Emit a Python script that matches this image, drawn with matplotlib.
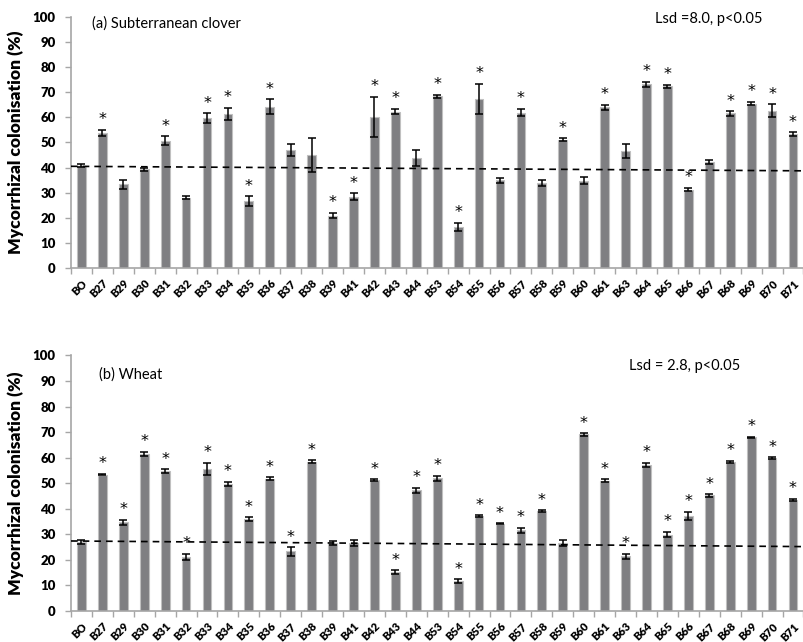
import matplotlib
matplotlib.use("Agg")
import matplotlib.pyplot as plt
import numpy as np

categories = ["BO", "B27", "B29", "B30", "B31", "B32", "B33", "B34", "B35", "B36",
              "B37", "B38", "B39", "B41", "B42", "B43", "B44", "B53", "B54", "B55",
              "B56", "B57", "B58", "B59", "B60", "B61", "B63", "B64", "B65", "B66",
              "B67", "B68", "B69", "B70", "B71"]

clover_values = [40.7, 53.8, 33.4, 39.3, 50.6, 28.0, 59.6, 61.3, 26.5, 64.2,
                 47.1, 45.0, 20.9, 28.4, 60.2, 62.3, 43.9, 68.4, 16.5, 67.3,
                 34.9, 61.9, 33.9, 51.1, 34.8, 64.1, 46.6, 73.2, 72.4, 31.2,
                 42.2, 61.6, 65.5, 62.7, 53.3]
clover_err = [0.6, 1.2, 1.8, 0.7, 1.8, 0.7, 2.0, 2.5, 2.0, 3.0,
              2.3, 6.7, 1.0, 1.3, 8.0, 1.1, 3.2, 0.7, 1.6, 6.0,
              1.0, 1.5, 1.2, 0.5, 1.5, 1.0, 2.9, 1.0, 0.6, 0.7,
              0.7, 0.9, 0.7, 2.5, 0.8]
clover_sig = [0, 1, 0, 0, 1, 0, 1, 1, 1, 1,
              0, 0, 1, 1, 1, 1, 0, 1, 1, 1,
              0, 1, 0, 1, 0, 1, 0, 1, 1, 1,
              0, 1, 1, 1, 1]
clover_ref = [40.5, 38.7]
clover_title = "(a) Subterranean clover"
clover_lsd = "Lsd =8.0, p<0.05"

wheat_values = [27.0, 53.4, 34.8, 61.4, 54.7, 21.1, 55.5, 49.8, 35.9, 51.8,
                23.3, 58.4, 26.5, 26.6, 51.2, 15.1, 47.2, 51.9, 11.7, 37.1,
                34.2, 31.6, 39.1, 26.6, 69.1, 51.0, 21.5, 57.2, 29.9, 37.3,
                45.2, 58.4, 67.9, 59.7, 43.6]
wheat_err = [0.6, 0.3, 1.0, 0.9, 0.8, 1.3, 2.4, 0.7, 0.8, 0.6,
             1.6, 0.6, 0.8, 1.0, 0.4, 0.8, 1.0, 1.1, 0.7, 0.4,
             0.2, 1.0, 0.4, 1.0, 0.5, 0.6, 1.0, 0.7, 1.1, 1.5,
             0.5, 0.4, 0.3, 0.4, 0.4]
wheat_sig = [0, 1, 1, 1, 1, 1, 1, 1, 1, 1,
             1, 1, 0, 0, 1, 1, 1, 1, 1, 1,
             1, 1, 1, 0, 1, 1, 1, 1, 1, 1,
             1, 1, 1, 1, 1]
wheat_ref = [27.4, 25.2]
wheat_title = "(b) Wheat"
wheat_lsd = "Lsd = 2.8, p<0.05"

yticks = list(range(0, 101, 10))

plt.rcParams['font.family'] = ['Lato', 'DejaVu Sans']

fig = plt.figure(figsize=(8.04, 6.42), dpi=100)
ax1 = fig.add_axes([0.0883, 0.5826, 0.911, 0.391])
ax2 = fig.add_axes([0.0883, 0.0483, 0.911, 0.3980])

bar_color = "#7f7f82"
edge_color = "#c0c0c0"
axis_color = "#a6a6a6"


def draw(ax, values, err, sig, ref, title, lsd, title_xy, lsd_xy):
    x = np.arange(len(categories))
    ax.bar(x, values, width=0.42, color=bar_color, edgecolor=edge_color,
           linewidth=0.8, zorder=2)
    ax.errorbar(x, values, yerr=err, fmt='none', ecolor='black', elinewidth=1.1,
                capsize=3, capthick=1.1, zorder=3)
    for xi, v, e, s in zip(x, values, err, sig):
        if s:
            ax.text(xi, v + e + 1.0, "*", ha='center', va='bottom',
                    fontsize=11.5, color='black', family='DejaVu Sans')
    ax.plot([-0.5, len(categories) - 0.5], ref, linestyle=(0, (4, 3)),
            color='black', linewidth=1.2, zorder=4)
    ax.set_xlim(-0.5, len(categories) - 0.5)
    ax.set_ylim(0, 100)
    ax.set_yticks(yticks)
    ax.set_yticklabels([str(t) for t in yticks], fontsize=9.5, fontweight='heavy')
    ax.set_xticks(x)
    ax.set_xticklabels(categories, rotation=45, ha='right', rotation_mode='anchor',
                       fontsize=8, fontweight='heavy')
    ax.set_xticks(np.arange(-0.5, len(categories), 1.0), minor=True)
    ax.tick_params(axis='x', which='major', length=0, pad=7)
    ax.tick_params(axis='x', which='minor', length=4, color=axis_color, width=1)
    ax.tick_params(axis='y', length=4, color=axis_color, width=1, pad=7)
    for sp in ['top', 'right']:
        ax.spines[sp].set_visible(False)
    for sp in ['left', 'bottom']:
        ax.spines[sp].set_color(axis_color)
        ax.spines[sp].set_linewidth(1.2)
    ax.set_ylabel("Mycorrhizal colonisation (%)", fontsize=12.5, fontweight='heavy',
                  labelpad=6)
    ax.text(title_xy[0], title_xy[1], title, transform=fig.transFigure,
            fontsize=10.5, ha='left', va='center')
    ax.text(lsd_xy[0], lsd_xy[1], lsd, transform=fig.transFigure,
            fontsize=10.5, ha='left', va='center')


draw(ax1, clover_values, clover_err, clover_sig, clover_ref, clover_title, clover_lsd,
     (92 / 804, 1 - 24 / 642), (655 / 804, 1 - 19 / 642))
draw(ax2, wheat_values, wheat_err, wheat_sig, wheat_ref, wheat_title, wheat_lsd,
     (99 / 804, 1 - 375 / 642), (629 / 804, 1 - 366 / 642))

fig.savefig("out.png", dpi=100)
